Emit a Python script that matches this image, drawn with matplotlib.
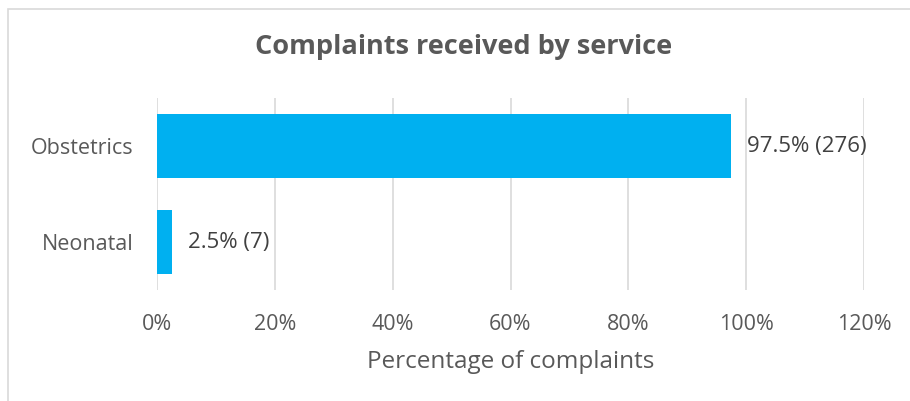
import matplotlib.pyplot as plt
from matplotlib.patches import Rectangle

plt.rcParams['font.family'] = ['Open Sans', 'DejaVu Sans']

services = ['Neonatal', 'Obstetrics']
pct = [2.5, 97.5]
counts = [7, 276]
xticks = [0, 20, 40, 60, 80, 100, 120]

text_color = '#595959'
bar_color = '#00B0F0'
grid_color = '#D9D9D9'

fig = plt.figure(figsize=(9.10, 4.01), dpi=100)
ax = fig.add_axes([157 / 910, 1 - 290 / 401, (864 - 157) / 910, 192 / 401])

ax.barh(range(len(services)), pct, height=0.66, color=bar_color, zorder=3)
for i, (p, c) in enumerate(zip(pct, counts)):
    ax.annotate(f'{p}% ({c})', (p, i), xytext=(11.5, 0), textcoords='offset points',
                ha='left', va='center', fontsize=16, color='#404040', zorder=4)

ax.set_xlim(0, 120)
ax.set_ylim(-0.5, 1.5)
ax.set_xticks(xticks)
ax.set_xticklabels([f'{t}%' for t in xticks])
ax.set_yticks(range(len(services)))
ax.set_yticklabels(services)
ax.tick_params(length=0, labelsize=15.5, labelcolor=text_color)
ax.tick_params(axis='x', pad=17.5)
ax.tick_params(axis='y', pad=17)
ax.grid(axis='x', color=grid_color, linewidth=1.2, zorder=0)
for s in ax.spines.values():
    s.set_visible(False)

ax.set_xlabel('Percentage of complaints', fontsize=17.5, color=text_color, labelpad=10.5)
fig.text(464 / 910, 1 - 47 / 401, 'Complaints received by service', ha='center', va='center',
         fontsize=19.5, fontweight='bold', color=text_color)

# chart frame
fig.patches.append(Rectangle((8 / 910, -0.05), 1.1, 1 - 9 / 401 + 0.05, transform=fig.transFigure,
                             fill=False, edgecolor='#D9D9D9', linewidth=1.2))

fig.savefig('out.png', dpi=100)
